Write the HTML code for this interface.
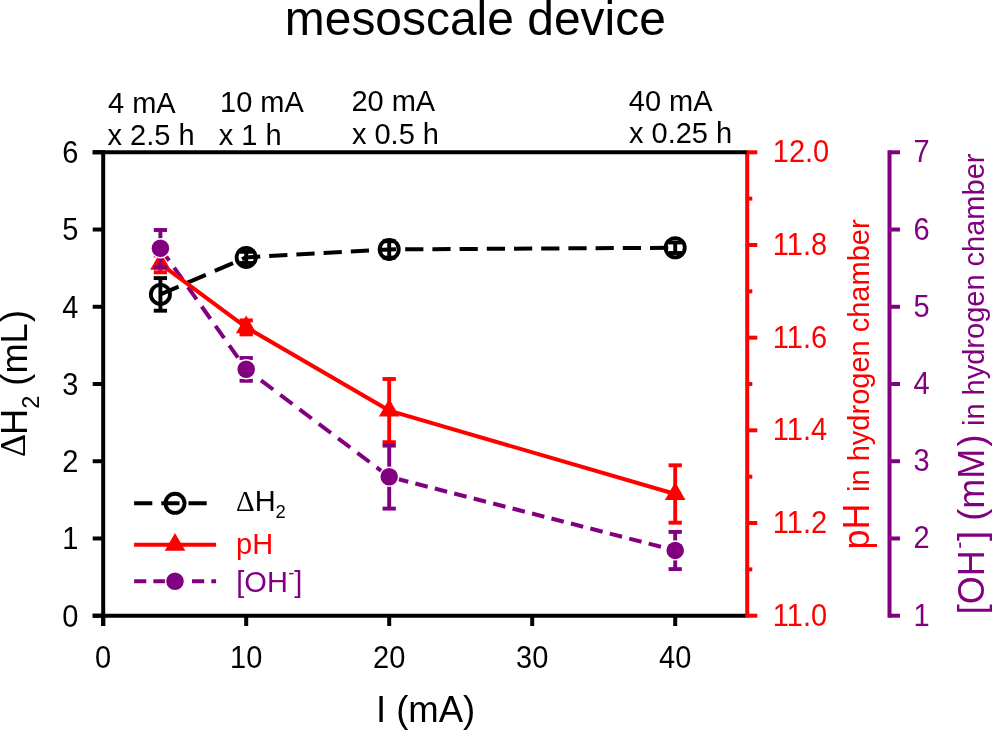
<!DOCTYPE html>
<html lang="en">
<head>
<meta charset="utf-8">
<title>mesoscale device</title>
<style>
html,body{margin:0;padding:0;background:#ffffff;}
body{width:992px;height:730px;overflow:hidden;}
svg{display:block;}
</style>
</head>
<body>
<svg width="992" height="730" viewBox="0 0 992 730">
<rect x="0" y="0" width="992" height="730" fill="#ffffff"/>
<g stroke-linecap="butt">
<line x1="103.20" y1="150.30" x2="103.20" y2="626.00" stroke="#000000" stroke-width="4.0" />
<line x1="92.70" y1="615.70" x2="746.20" y2="615.70" stroke="#000000" stroke-width="4.0" />
<line x1="92.70" y1="615.70" x2="103.20" y2="615.70" stroke="#000000" stroke-width="4.0" />
<line x1="92.70" y1="538.47" x2="103.20" y2="538.47" stroke="#000000" stroke-width="4.0" />
<line x1="92.70" y1="461.23" x2="103.20" y2="461.23" stroke="#000000" stroke-width="4.0" />
<line x1="92.70" y1="384.00" x2="103.20" y2="384.00" stroke="#000000" stroke-width="4.0" />
<line x1="92.70" y1="306.77" x2="103.20" y2="306.77" stroke="#000000" stroke-width="4.0" />
<line x1="92.70" y1="229.53" x2="103.20" y2="229.53" stroke="#000000" stroke-width="4.0" />
<line x1="92.70" y1="152.30" x2="103.20" y2="152.30" stroke="#000000" stroke-width="4.0" />
<line x1="103.20" y1="615.70" x2="103.20" y2="626.00" stroke="#000000" stroke-width="4.0" />
<line x1="246.20" y1="615.70" x2="246.20" y2="626.00" stroke="#000000" stroke-width="4.0" />
<line x1="389.20" y1="615.70" x2="389.20" y2="626.00" stroke="#000000" stroke-width="4.0" />
<line x1="532.20" y1="615.70" x2="532.20" y2="626.00" stroke="#000000" stroke-width="4.0" />
<line x1="675.20" y1="615.70" x2="675.20" y2="626.00" stroke="#000000" stroke-width="4.0" />
<line x1="747.20" y1="150.30" x2="747.20" y2="617.70" stroke="#ff0000" stroke-width="4.0" />
<line x1="747.20" y1="615.70" x2="757.30" y2="615.70" stroke="#ff0000" stroke-width="4.0" />
<line x1="747.20" y1="569.36" x2="752.30" y2="569.36" stroke="#ff0000" stroke-width="4.0" />
<line x1="747.20" y1="523.02" x2="757.30" y2="523.02" stroke="#ff0000" stroke-width="4.0" />
<line x1="747.20" y1="476.68" x2="752.30" y2="476.68" stroke="#ff0000" stroke-width="4.0" />
<line x1="747.20" y1="430.34" x2="757.30" y2="430.34" stroke="#ff0000" stroke-width="4.0" />
<line x1="747.20" y1="384.00" x2="752.30" y2="384.00" stroke="#ff0000" stroke-width="4.0" />
<line x1="747.20" y1="337.66" x2="757.30" y2="337.66" stroke="#ff0000" stroke-width="4.0" />
<line x1="747.20" y1="291.32" x2="752.30" y2="291.32" stroke="#ff0000" stroke-width="4.0" />
<line x1="747.20" y1="244.98" x2="757.30" y2="244.98" stroke="#ff0000" stroke-width="4.0" />
<line x1="747.20" y1="198.64" x2="752.30" y2="198.64" stroke="#ff0000" stroke-width="4.0" />
<line x1="747.20" y1="152.30" x2="757.30" y2="152.30" stroke="#ff0000" stroke-width="4.0" />
<line x1="889.50" y1="150.30" x2="889.50" y2="617.70" stroke="#800080" stroke-width="4.0" />
<line x1="889.50" y1="615.70" x2="900.00" y2="615.70" stroke="#800080" stroke-width="4.0" />
<line x1="889.50" y1="538.47" x2="900.00" y2="538.47" stroke="#800080" stroke-width="4.0" />
<line x1="889.50" y1="461.23" x2="900.00" y2="461.23" stroke="#800080" stroke-width="4.0" />
<line x1="889.50" y1="384.00" x2="900.00" y2="384.00" stroke="#800080" stroke-width="4.0" />
<line x1="889.50" y1="306.77" x2="900.00" y2="306.77" stroke="#800080" stroke-width="4.0" />
<line x1="889.50" y1="229.53" x2="900.00" y2="229.53" stroke="#800080" stroke-width="4.0" />
<line x1="889.50" y1="152.30" x2="900.00" y2="152.30" stroke="#800080" stroke-width="4.0" />
<line x1="92.70" y1="152.30" x2="746.60" y2="152.30" stroke="#000000" stroke-width="4.0" />
<path d="M160.40 294.40L178.60 286.55M187.60 282.67L205.80 274.82M214.80 270.94L233.00 263.09M242.00 259.21L246.20 257.40L260.20 256.62M269.20 256.11L287.40 255.10M296.40 254.59L314.60 253.57M323.60 253.07L341.80 252.05M350.80 251.55L369.00 250.53M378.00 250.03L389.20 249.40L396.20 249.36M405.20 249.31L423.40 249.20M432.40 249.15L450.60 249.05M459.60 248.99L477.80 248.89M486.80 248.84L505.00 248.73M514.00 248.68L532.20 248.58M541.20 248.52L559.40 248.42M568.40 248.37L586.60 248.26M595.60 248.21L613.80 248.10M622.80 248.05L641.00 247.95M650.00 247.90L668.20 247.79" fill="none" stroke="#000000" stroke-width="4.0" stroke-linejoin="miter"/>
<path d="M160.40 248.30L169.10 260.56M174.17 267.70L182.87 279.96M187.94 287.10L196.64 299.36M201.70 306.50L210.41 318.76M215.47 325.90L224.17 338.16M229.24 345.30L237.94 357.56M243.01 364.70L246.20 369.20L253.91 375.00M261.00 380.34L273.18 389.50M280.27 394.84L292.45 404.00M299.54 409.34L311.72 418.50M318.81 423.84L330.99 433.00M338.08 438.33L350.26 447.50M357.35 452.83L369.53 462.00M376.62 467.33L388.80 476.50M395.95 478.54L408.24 481.70M415.39 483.54L427.68 486.70M434.83 488.54L447.12 491.70M454.27 493.55L466.56 496.71M473.71 498.55L486.00 501.71M493.15 503.55L505.44 506.71M512.59 508.55L524.88 511.72M532.03 513.56L544.32 516.72M551.47 518.56L563.76 521.72M570.91 523.56L583.20 526.72M590.35 528.56L602.64 531.73M609.79 533.57L622.08 536.73M629.23 538.57L641.52 541.73M648.67 543.57L660.96 546.73M668.11 548.58L675.20 550.40" fill="none" stroke="#800080" stroke-width="4.0" stroke-linejoin="miter"/>
<polyline points="160.40,263.90 246.20,327.40 389.20,410.60 675.20,494.00" fill="none" stroke="#ff0000" stroke-width="4" stroke-linejoin="round"/>
<line x1="160.40" y1="278.10" x2="160.40" y2="310.70" stroke="#000000" stroke-width="3.9" />
<line x1="153.75" y1="278.10" x2="167.05" y2="278.10" stroke="#000000" stroke-width="3.9" />
<line x1="153.75" y1="310.70" x2="167.05" y2="310.70" stroke="#000000" stroke-width="3.9" />
<line x1="246.20" y1="251.80" x2="246.20" y2="263.00" stroke="#000000" stroke-width="3.9" />
<line x1="239.55" y1="251.80" x2="252.85" y2="251.80" stroke="#000000" stroke-width="3.9" />
<line x1="239.55" y1="263.00" x2="252.85" y2="263.00" stroke="#000000" stroke-width="3.9" />
<line x1="389.20" y1="241.20" x2="389.20" y2="257.60" stroke="#000000" stroke-width="3.9" />
<line x1="382.55" y1="241.20" x2="395.85" y2="241.20" stroke="#000000" stroke-width="3.9" />
<line x1="382.55" y1="257.60" x2="395.85" y2="257.60" stroke="#000000" stroke-width="3.9" />
<line x1="675.20" y1="242.50" x2="675.20" y2="253.00" stroke="#000000" stroke-width="3.9" />
<line x1="668.55" y1="242.50" x2="681.85" y2="242.50" stroke="#000000" stroke-width="3.9" />
<line x1="668.55" y1="253.00" x2="681.85" y2="253.00" stroke="#000000" stroke-width="3.9" />
<circle cx="160.40" cy="294.40" r="9.58" fill="none" stroke="#000000" stroke-width="3.85"/>
<circle cx="246.20" cy="257.40" r="9.58" fill="none" stroke="#000000" stroke-width="3.85"/>
<circle cx="389.20" cy="249.40" r="9.58" fill="none" stroke="#000000" stroke-width="3.85"/>
<circle cx="675.20" cy="247.75" r="9.58" fill="none" stroke="#000000" stroke-width="3.85"/>
<line x1="160.40" y1="255.50" x2="160.40" y2="272.30" stroke="#ff0000" stroke-width="3.9" />
<line x1="153.75" y1="255.50" x2="167.05" y2="255.50" stroke="#ff0000" stroke-width="3.9" />
<line x1="153.75" y1="272.30" x2="167.05" y2="272.30" stroke="#ff0000" stroke-width="3.9" />
<line x1="246.20" y1="320.40" x2="246.20" y2="334.40" stroke="#ff0000" stroke-width="3.9" />
<line x1="239.55" y1="320.40" x2="252.85" y2="320.40" stroke="#ff0000" stroke-width="3.9" />
<line x1="239.55" y1="334.40" x2="252.85" y2="334.40" stroke="#ff0000" stroke-width="3.9" />
<line x1="389.20" y1="379.00" x2="389.20" y2="442.20" stroke="#ff0000" stroke-width="3.9" />
<line x1="382.55" y1="379.00" x2="395.85" y2="379.00" stroke="#ff0000" stroke-width="3.9" />
<line x1="382.55" y1="442.20" x2="395.85" y2="442.20" stroke="#ff0000" stroke-width="3.9" />
<line x1="675.20" y1="465.30" x2="675.20" y2="522.70" stroke="#ff0000" stroke-width="3.9" />
<line x1="668.55" y1="465.30" x2="681.85" y2="465.30" stroke="#ff0000" stroke-width="3.9" />
<line x1="668.55" y1="522.70" x2="681.85" y2="522.70" stroke="#ff0000" stroke-width="3.9" />
<polygon points="160.40,252.01 150.10,269.85 170.70,269.85" fill="#ff0000"/>
<polygon points="246.20,315.51 235.90,333.35 256.50,333.35" fill="#ff0000"/>
<polygon points="389.20,398.71 378.90,416.55 399.50,416.55" fill="#ff0000"/>
<polygon points="675.20,482.11 664.90,499.95 685.50,499.95" fill="#ff0000"/>
<line x1="160.40" y1="230.00" x2="160.40" y2="267.40" stroke="#800080" stroke-width="3.9" />
<line x1="153.75" y1="230.00" x2="167.05" y2="230.00" stroke="#800080" stroke-width="3.9" />
<line x1="153.75" y1="267.40" x2="167.05" y2="267.40" stroke="#800080" stroke-width="3.9" />
<line x1="246.20" y1="358.00" x2="246.20" y2="380.80" stroke="#800080" stroke-width="3.9" />
<line x1="239.55" y1="358.00" x2="252.85" y2="358.00" stroke="#800080" stroke-width="3.9" />
<line x1="239.55" y1="380.80" x2="252.85" y2="380.80" stroke="#800080" stroke-width="3.9" />
<line x1="389.20" y1="445.60" x2="389.20" y2="508.60" stroke="#800080" stroke-width="3.9" />
<line x1="382.55" y1="445.60" x2="395.85" y2="445.60" stroke="#800080" stroke-width="3.9" />
<line x1="382.55" y1="508.60" x2="395.85" y2="508.60" stroke="#800080" stroke-width="3.9" />
<line x1="675.20" y1="531.90" x2="675.20" y2="569.10" stroke="#800080" stroke-width="3.9" />
<line x1="668.55" y1="531.90" x2="681.85" y2="531.90" stroke="#800080" stroke-width="3.9" />
<line x1="668.55" y1="569.10" x2="681.85" y2="569.10" stroke="#800080" stroke-width="3.9" />
<circle cx="160.40" cy="248.30" r="10.20" fill="#ffffff"/>
<circle cx="160.40" cy="248.30" r="8.75" fill="#800080"/>
<circle cx="246.20" cy="369.20" r="10.20" fill="#ffffff"/>
<circle cx="246.20" cy="369.20" r="8.75" fill="#800080"/>
<circle cx="389.20" cy="476.80" r="10.20" fill="#ffffff"/>
<circle cx="389.20" cy="476.80" r="8.75" fill="#800080"/>
<circle cx="675.20" cy="550.40" r="10.20" fill="#ffffff"/>
<circle cx="675.20" cy="550.40" r="8.75" fill="#800080"/>
<path d="M134.10 503.30L152.30 503.30M161.30 503.30L179.50 503.30M188.50 503.30L206.70 503.30" fill="none" stroke="#000000" stroke-width="4.0" stroke-linejoin="miter"/>
<circle cx="175.00" cy="503.30" r="9.58" fill="none" stroke="#000000" stroke-width="3.85"/>
<line x1="134.10" y1="544.80" x2="216.10" y2="544.80" stroke="#ff0000" stroke-width="4" />
<polygon points="175.00,532.91 164.70,550.75 185.30,550.75" fill="#ff0000"/>
<path d="M134.10 581.20L146.30 581.20M153.40 581.20L165.60 581.20M172.70 581.20L184.90 581.20M192.00 581.20L204.20 581.20M211.30 581.20L216.10 581.20" fill="none" stroke="#800080" stroke-width="4.0" stroke-linejoin="miter"/>
<circle cx="175.00" cy="581.20" r="10.20" fill="#ffffff"/>
<circle cx="175.00" cy="581.20" r="8.75" fill="#800080"/>
</g>
<g>
<text id="title" x="284.80" y="34.70" font-size="47.95" fill="#000000" text-anchor="start" font-family="Liberation Sans, sans-serif">mesoscale device</text>
<text id="top0" x="108.00" y="112.80" font-size="29" fill="#000000" text-anchor="start" font-family="Liberation Sans, sans-serif">4 mA</text>
<text id="top1" x="107.50" y="144.50" font-size="29" fill="#000000" text-anchor="start" font-family="Liberation Sans, sans-serif">x 2.5 h</text>
<text id="top2" x="220.00" y="111.80" font-size="29" fill="#000000" text-anchor="start" font-family="Liberation Sans, sans-serif">10 mA</text>
<text id="top3" x="218.80" y="144.50" font-size="29" fill="#000000" text-anchor="start" font-family="Liberation Sans, sans-serif">x 1 h</text>
<text id="top4" x="351.40" y="110.80" font-size="29" fill="#000000" text-anchor="start" font-family="Liberation Sans, sans-serif">20 mA</text>
<text id="top5" x="351.90" y="144.10" font-size="29" fill="#000000" text-anchor="start" font-family="Liberation Sans, sans-serif">x 0.5 h</text>
<text id="top6" x="628.80" y="110.80" font-size="29" fill="#000000" text-anchor="start" font-family="Liberation Sans, sans-serif">40 mA</text>
<text id="top7" x="629.00" y="142.90" font-size="29" fill="#000000" text-anchor="start" font-family="Liberation Sans, sans-serif">x 0.25 h</text>
<text id="yl0" x="78.40" y="626.60" font-size="29" fill="#000000" text-anchor="end" font-family="Liberation Sans, sans-serif" transform="matrix(1 0 0 1.05 0 -31.330)">0</text>
<text id="yl1" x="78.40" y="549.37" font-size="29" fill="#000000" text-anchor="end" font-family="Liberation Sans, sans-serif" transform="matrix(1 0 0 1.05 0 -27.468)">1</text>
<text id="yl2" x="78.40" y="472.13" font-size="29" fill="#000000" text-anchor="end" font-family="Liberation Sans, sans-serif" transform="matrix(1 0 0 1.05 0 -23.607)">2</text>
<text id="yl3" x="78.40" y="394.90" font-size="29" fill="#000000" text-anchor="end" font-family="Liberation Sans, sans-serif" transform="matrix(1 0 0 1.05 0 -19.745)">3</text>
<text id="yl4" x="78.40" y="317.67" font-size="29" fill="#000000" text-anchor="end" font-family="Liberation Sans, sans-serif" transform="matrix(1 0 0 1.05 0 -15.883)">4</text>
<text id="yl5" x="78.40" y="240.43" font-size="29" fill="#000000" text-anchor="end" font-family="Liberation Sans, sans-serif" transform="matrix(1 0 0 1.05 0 -12.022)">5</text>
<text id="yl6" x="78.40" y="163.20" font-size="29" fill="#000000" text-anchor="end" font-family="Liberation Sans, sans-serif" transform="matrix(1 0 0 1.05 0 -8.160)">6</text>
<text id="xl0" x="103.20" y="667.60" font-size="29" fill="#000000" text-anchor="middle" font-family="Liberation Sans, sans-serif" transform="matrix(1 0 0 1.05 0 -33.380)">0</text>
<text id="xl10" x="246.20" y="667.60" font-size="29" fill="#000000" text-anchor="middle" font-family="Liberation Sans, sans-serif" transform="matrix(1 0 0 1.05 0 -33.380)">10</text>
<text id="xl20" x="389.20" y="667.60" font-size="29" fill="#000000" text-anchor="middle" font-family="Liberation Sans, sans-serif" transform="matrix(1 0 0 1.05 0 -33.380)">20</text>
<text id="xl30" x="532.20" y="667.60" font-size="29" fill="#000000" text-anchor="middle" font-family="Liberation Sans, sans-serif" transform="matrix(1 0 0 1.05 0 -33.380)">30</text>
<text id="xl40" x="675.20" y="667.60" font-size="29" fill="#000000" text-anchor="middle" font-family="Liberation Sans, sans-serif" transform="matrix(1 0 0 1.05 0 -33.380)">40</text>
<text id="rl0" x="772.80" y="625.70" font-size="29" fill="#ff0000" text-anchor="start" font-family="Liberation Sans, sans-serif" transform="matrix(1 0 0 1.05 0 -31.285)">11.0</text>
<text id="rl1" x="772.80" y="533.02" font-size="29" fill="#ff0000" text-anchor="start" font-family="Liberation Sans, sans-serif" transform="matrix(1 0 0 1.05 0 -26.651)">11.2</text>
<text id="rl2" x="772.80" y="440.34" font-size="29" fill="#ff0000" text-anchor="start" font-family="Liberation Sans, sans-serif" transform="matrix(1 0 0 1.05 0 -22.017)">11.4</text>
<text id="rl3" x="772.80" y="347.66" font-size="29" fill="#ff0000" text-anchor="start" font-family="Liberation Sans, sans-serif" transform="matrix(1 0 0 1.05 0 -17.383)">11.6</text>
<text id="rl4" x="772.80" y="254.98" font-size="29" fill="#ff0000" text-anchor="start" font-family="Liberation Sans, sans-serif" transform="matrix(1 0 0 1.05 0 -12.749)">11.8</text>
<text id="rl5" x="772.80" y="162.30" font-size="29" fill="#ff0000" text-anchor="start" font-family="Liberation Sans, sans-serif" transform="matrix(1 0 0 1.05 0 -8.115)">12.0</text>
<text id="pl0" x="913.60" y="625.70" font-size="29" fill="#800080" text-anchor="start" font-family="Liberation Sans, sans-serif" transform="matrix(1 0 0 1.05 0 -31.285)">1</text>
<text id="pl1" x="913.60" y="548.47" font-size="29" fill="#800080" text-anchor="start" font-family="Liberation Sans, sans-serif" transform="matrix(1 0 0 1.05 0 -27.423)">2</text>
<text id="pl2" x="913.60" y="471.23" font-size="29" fill="#800080" text-anchor="start" font-family="Liberation Sans, sans-serif" transform="matrix(1 0 0 1.05 0 -23.562)">3</text>
<text id="pl3" x="913.60" y="394.00" font-size="29" fill="#800080" text-anchor="start" font-family="Liberation Sans, sans-serif" transform="matrix(1 0 0 1.05 0 -19.700)">4</text>
<text id="pl4" x="913.60" y="316.77" font-size="29" fill="#800080" text-anchor="start" font-family="Liberation Sans, sans-serif" transform="matrix(1 0 0 1.05 0 -15.838)">5</text>
<text id="pl5" x="913.60" y="239.53" font-size="29" fill="#800080" text-anchor="start" font-family="Liberation Sans, sans-serif" transform="matrix(1 0 0 1.05 0 -11.977)">6</text>
<text id="pl6" x="913.60" y="162.30" font-size="29" fill="#800080" text-anchor="start" font-family="Liberation Sans, sans-serif" transform="matrix(1 0 0 1.05 0 -8.115)">7</text>
<text id="xlabel" x="375.90" y="721.90" font-size="36.5" fill="#000000" text-anchor="start" font-family="Liberation Sans, sans-serif">I (mA)</text>
<text id="ylabel_d" x="24.90" y="457.00" font-size="36" fill="#000000" text-anchor="start" font-family="Liberation Sans, sans-serif" transform="rotate(-90 24.90 457.00)"><tspan font-family="Liberation Serif, serif">Δ</tspan></text>
<text id="ylabel" x="26.90" y="434.90" font-size="36.2" fill="#000000" text-anchor="start" font-family="Liberation Sans, sans-serif" transform="rotate(-90 26.90 434.90)">H<tspan font-size="23.5" dy="12.1">2</tspan><tspan dy="-12.1"> (mL</tspan><tspan dx="1.3">)</tspan></text>
<text id="rt1" x="869.50" y="549.40" font-size="36" fill="#ff0000" text-anchor="start" font-family="Liberation Sans, sans-serif" transform="rotate(-90 869.50 549.40)">pH</text>
<text id="rt2" x="869.50" y="491.90" font-size="29.0" fill="#ff0000" text-anchor="start" font-family="Liberation Sans, sans-serif" transform="rotate(-90 869.50 491.90)">in hydrogen chamber</text>
<text id="pt1" x="984.20" y="614.30" font-size="36" fill="#800080" text-anchor="start" font-family="Liberation Sans, sans-serif" transform="rotate(-90 984.20 614.30)">[OH<tspan font-size="22" dy="-17.9" dx="1.5">-</tspan><tspan dy="17.9" dx="0.5">]</tspan></text>
<text id="pt2" x="984.20" y="520.80" font-size="36" fill="#800080" text-anchor="start" font-family="Liberation Sans, sans-serif" transform="rotate(-90 984.20 520.80)">(mM<tspan dx="2.4">)</tspan></text>
<text id="pt3" x="984.20" y="426.00" font-size="29.0" fill="#800080" text-anchor="start" font-family="Liberation Sans, sans-serif" transform="rotate(-90 984.20 426.00)">in hydrogen chamber</text>
<text id="lg1" x="236.00" y="511.30" font-size="29" fill="#000000" text-anchor="start" font-family="Liberation Sans, sans-serif"><tspan font-family="Liberation Serif, serif">Δ</tspan>H<tspan font-size="18.5" dy="7">2</tspan></text>
<text id="lg2" x="236.00" y="553.60" font-size="29" fill="#ff0000" text-anchor="start" font-family="Liberation Sans, sans-serif">pH</text>
<text id="lg3" x="236.30" y="591.90" font-size="29" fill="#800080" text-anchor="start" font-family="Liberation Sans, sans-serif">[OH<tspan font-size="18.5" dy="-13" dx="0.5">-</tspan><tspan dy="13" dx="-0.3">]</tspan></text>
</g>
</svg>
</body>
</html>
